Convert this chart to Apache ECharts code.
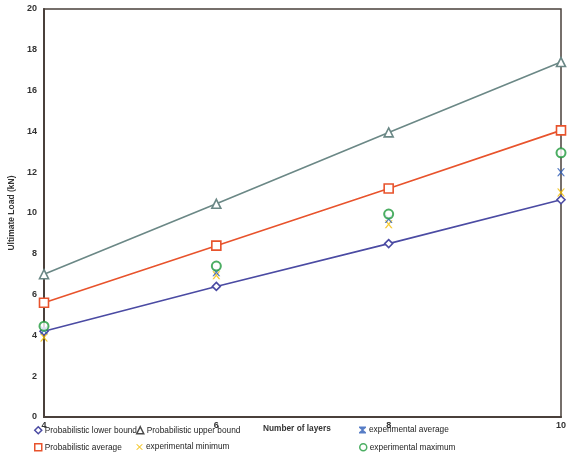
<!DOCTYPE html>
<html><head><meta charset="utf-8">
<script src="https://cdn.jsdelivr.net/npm/echarts@6/dist/echarts.min.js"></script>
<style>html,body{margin:0;padding:0;background:#fff}#c{width:579px;height:457px}</style>
</head><body><div id="c"></div>
<script>
const layers = [4, 6, 8, 10];
const lowerBound = [4.2, 6.4, 8.5, 10.65];
const upperBound = [7.0, 10.45, 13.95, 17.4];
const probAverage = [5.6, 8.4, 11.2, 14.05];
const expAverage = [4.25, 7.1, 9.7, 12.0];
const expMinimum = [3.9, 6.95, 9.45, 11.0];
const expMaximum = [4.45, 7.4, 9.95, 12.95];
const xTicks = [4, 6, 8, 10];
const yTicks = [0, 2, 4, 6, 8, 10, 12, 14, 16, 18, 20];
const xTitle = 'Number of layers';
const yTitle = 'Ultimate Load (kN)';

const FONT = '"Liberation Sans",sans-serif';
const pairs = a => layers.map((x, i) => [x, a[i]]);
const X_PATH = 'path://M0,0 L3,3 L6,0 L8,0 L4,4 L8,8 L6,8 L3,5 L0,8 L-2,8 L2,4 L-2,0 Z';
const HG_PATH = 'path://M0,0 L8,0 L8,1.5 L5,4 L8,6.5 L8,8 L0,8 L0,6.5 L3,4 L0,1.5 Z';

const series = [
  {name:'Probabilistic lower bound', type:'line', data:pairs(lowerBound), symbol:'diamond', symbolSize:8,
   lineStyle:{color:'#4b4ba3', width:1.6}, itemStyle:{color:'#fff', borderColor:'#4b4ba3', borderWidth:1.6}, z:3},
  {name:'Probabilistic upper bound', type:'line', data:pairs(upperBound), symbol:'triangle', symbolSize:9,
   lineStyle:{color:'#6b8886', width:1.6}, itemStyle:{color:'#fff', borderColor:'#6b8886', borderWidth:1.6}, z:3},
  {name:'Probabilistic average', type:'line', data:pairs(probAverage), symbol:'rect', symbolSize:9,
   lineStyle:{color:'#e8532c', width:1.6}, itemStyle:{color:'#fff', borderColor:'#e8532c', borderWidth:1.6}, z:3},
  {name:'experimental minimum', type:'scatter', data:pairs(expMinimum), symbol:X_PATH, symbolSize:8,
   itemStyle:{color:'#f2bd00'}, z:4},
  {name:'experimental average', type:'scatter', data:pairs(expAverage), symbol:X_PATH, symbolSize:8,
   itemStyle:{color:'#2d5db8'}, z:5},
  {name:'experimental maximum', type:'scatter', data:pairs(expMaximum), symbol:'circle', symbolSize:9,
   itemStyle:{color:'#fff', borderColor:'#1f9a3c', borderWidth:2}, z:6}
];

const legendIcons = {
  'Probabilistic lower bound': ['diamond', '#4b4ba3', true],
  'Probabilistic upper bound': ['triangle', '#4a4a4a', true],
  'Probabilistic average': ['rect', '#e8532c', true],
  'experimental minimum': [X_PATH, '#f2bd00', false],
  'experimental average': [HG_PATH, '#2d5db8', false],
  'experimental maximum': ['circle', '#1f9a3c', true]
};
const legendPos = [
  ['Probabilistic lower bound', 34, 426],
  ['Probabilistic upper bound', 136, 426],
  ['experimental average', 359, 426],
  ['Probabilistic average', 34, 443],
  ['experimental minimum', 136, 443],
  ['experimental maximum', 359, 443]
];
const legends = legendPos.map(([n, l, t]) => {
  const [icon, col, hollow] = legendIcons[n];
  return {
    left:l, top:t, itemWidth:7, itemHeight:7, itemGap:4, padding:0,
    textStyle:{fontFamily:FONT, fontSize:8.3, color:'#222', padding:[0,0,0,-2]},
    data:[{name:n, icon:icon, itemStyle: hollow ? {color:'#fff', borderColor:col, borderWidth:1.5} : {color:col, borderWidth:0}}]
  };
});

const chart = echarts.init(document.getElementById('c'), null, {renderer:'canvas'});
chart.setOption({
  animation:false,
  backgroundColor:'#fff',
  grid:{left:44, right:18, top:9, bottom:40, containLabel:false, outerBoundsMode:'none',
        show:true, borderColor:'#4a403b', borderWidth:1.5},
  legend:legends,
  graphic:[{type:'text', left:263, top:425,
    style:{text:xTitle, fontFamily:FONT, fontSize:8.3, fontWeight:'bold', fill:'#333'}}],
  xAxis:{type:'value', min:xTicks[0], max:xTicks[xTicks.length-1], interval:2,
    axisLine:{lineStyle:{color:'#4a403b', width:2}}, axisTick:{show:false}, splitLine:{show:false},
    axisLabel:{fontFamily:FONT, fontSize:9, fontWeight:'bold', color:'#333', margin:4, hideOverlap:false}},
  yAxis:{type:'value', min:yTicks[0], max:yTicks[yTicks.length-1], interval:2,
    name:yTitle, nameLocation:'middle', nameGap:25, nameRotate:90,
    nameTextStyle:{fontFamily:FONT, fontSize:8.5, fontWeight:'bold', color:'#333'},
    axisLine:{show:true, lineStyle:{color:'#4a403b', width:2}}, axisTick:{show:false}, splitLine:{show:false},
    axisLabel:{fontFamily:FONT, fontSize:9, fontWeight:'bold', color:'#333', margin:7}},
  series:series
});
</script></body></html>
